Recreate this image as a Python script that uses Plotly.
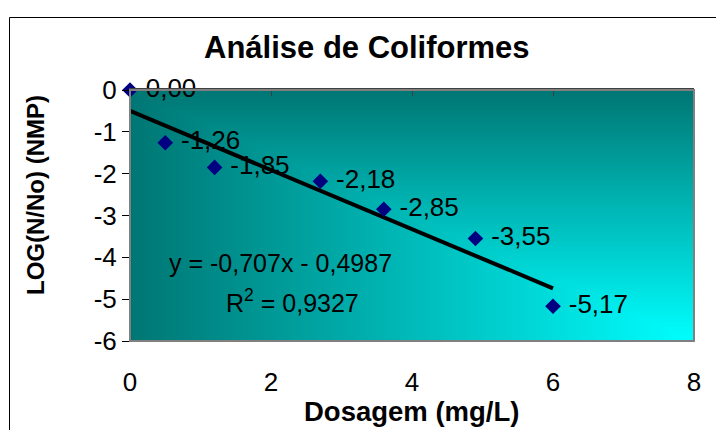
import numpy as np
import plotly.graph_objects as go

# ---- data ----
dosagem = [0, 0.5, 1.2, 2.7, 3.6, 4.9, 6.0]
log_ratio = [0.00, -1.26, -1.85, -2.18, -2.85, -3.55, -5.17]
point_labels = ["0,00", "-1,26", "-1,85", "-2,18", "-2,85", "-3,55", "-5,17"]
slope = -0.707
intercept = -0.4987
r2_text = "0,9327"
x_ticks = [0, 2, 4, 6, 8]
y_ticks = [0, -1, -2, -3, -4, -5, -6]
y_ticktext = ["0", "-1", "-2", "-3", "-4", "-5", "-6"]

W, H = 716, 430
L, R, T, B = 130, 694, 90, 341
XR = [0, 8]
YR = [-6, 0]

FONT = "Arial, Liberation Sans, sans-serif"

fig = go.Figure()

# background corner gradient (decoration)
gx = np.linspace(-0.5, 8.5, 91)
gy = np.linspace(-6.5, 0.5, 71)
U = np.clip(gx / 8.0, 0, 1)[None, :]
V = np.clip(-gy / 6.0, 0, 1)[:, None]
Z = np.minimum(U, V)
fig.add_trace(go.Heatmap(x=gx, y=gy, z=Z, zsmooth="best", showscale=False,
                         colorscale=[[0, "#007673"], [1, "#00FFFF"]],
                         zmin=0, zmax=1, hoverinfo="skip"))

# trendline
tx = [0, max(dosagem)]
ty = [slope * v + intercept for v in tx]
fig.add_trace(go.Scatter(x=tx, y=ty, mode="lines",
                         line=dict(color="black", width=4), hoverinfo="skip"))

# data points
fig.add_trace(go.Scatter(x=dosagem, y=log_ratio, mode="markers+text",
                         text=point_labels, texttemplate=" %{text}",
                         textposition="middle right",
                         textfont=dict(family=FONT, size=26, color="black"),
                         marker=dict(symbol="diamond", size=12, color="#000080"),
                         cliponaxis=False))

# invisible trace for top axis
fig.add_trace(go.Scatter(x=XR, y=YR, xaxis="x2", mode="markers",
                         marker=dict(opacity=0), hoverinfo="skip"))

def px_to_paper_x(p):
    return (p - L) / (R - L)

def px_to_paper_y(p):
    return (B - p) / (B - T)

shapes = [
    dict(type="rect", xref="paper", yref="paper", x0=0, x1=1, y0=0, y1=1,
         line=dict(color="#808080", width=2), layer="above"),
    dict(type="rect", xref="paper", yref="paper",
         x0=px_to_paper_x(9.5), x1=px_to_paper_x(760),
         y0=px_to_paper_y(470), y1=px_to_paper_y(17.5),
         line=dict(color="black", width=1)),
]

annotations = [
    dict(text="<b>Análise de Coliformes</b>", xref="paper", yref="paper",
         x=px_to_paper_x(367), y=px_to_paper_y(48), showarrow=False,
         xanchor="center", yanchor="middle",
         font=dict(family=FONT, size=31, color="black")),
    dict(text="<b>Dosagem (mg/L)</b>", xref="paper", yref="paper",
         x=px_to_paper_x(411), y=px_to_paper_y(411), showarrow=False,
         xanchor="center", yanchor="middle",
         font=dict(family=FONT, size=27.5, color="black")),
    dict(text="<b>LOG(N/No) (NMP)</b>", xref="paper", yref="paper",
         x=px_to_paper_x(35), y=px_to_paper_y(195), showarrow=False,
         xanchor="center", yanchor="middle",
         textangle=-90, font=dict(family=FONT, size=24, color="black")),
    dict(text=f"y = {str(slope).replace('.', ',')}x - {str(-intercept).replace('.', ',')}",
         x=2.13, y=-4.14, xref="x", yref="y", showarrow=False,
         xanchor="center", yanchor="middle",
         font=dict(family=FONT, size=25, color="black")),
    dict(text=f"R<sup>2</sup> = {r2_text}",
         x=2.3, y=-5.05, xref="x", yref="y", showarrow=False,
         xanchor="center", yanchor="middle",
         font=dict(family=FONT, size=25, color="black")),
]

fig.update_layout(
    width=W, height=H,
    margin=dict(l=L, r=W - R, t=T, b=H - B, pad=0),
    paper_bgcolor="white", plot_bgcolor="white",
    showlegend=False,
    font=dict(family=FONT, color="black"),
    xaxis=dict(range=XR, tickvals=x_ticks, ticktext=[str(v) for v in x_ticks],
               ticks="", showgrid=False, zeroline=False, showline=False,
               ticklabelstandoff=23, tickfont=dict(family=FONT, size=26, color="black")),
    xaxis2=dict(range=XR, overlaying="x", side="top", tickvals=x_ticks,
                ticks="inside", ticklen=6, tickcolor="#404040", tickwidth=1,
                showticklabels=False, showgrid=False, zeroline=False,
                showline=True, linecolor="#404040", linewidth=2),
    yaxis=dict(range=YR, tickvals=y_ticks, ticktext=y_ticktext,
               ticks="outside", ticklen=7, tickcolor="black", tickwidth=1,
               showgrid=False, zeroline=False, showline=True,
               linecolor="black", linewidth=1,
               tickfont=dict(family=FONT, size=26, color="black")),
)
fig.update_layout(shapes=shapes, annotations=annotations)

fig.write_html("out.html")
